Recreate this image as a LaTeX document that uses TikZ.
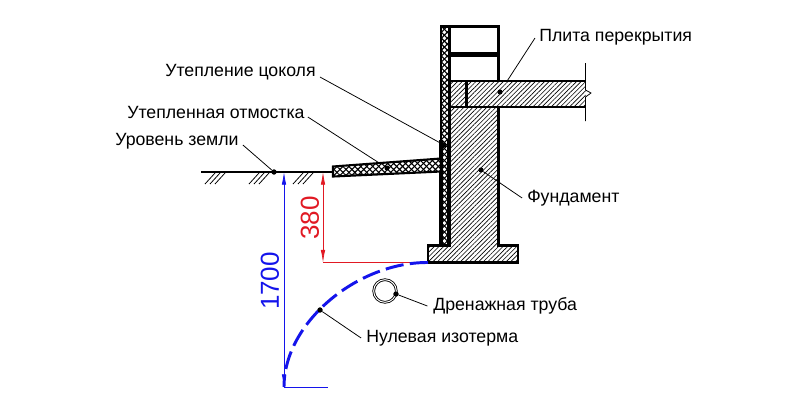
\documentclass[tikz,border=0pt]{standalone}
\usepackage{fontspec}
\setmainfont{Liberation Sans}
\usetikzlibrary{arrows.meta,patterns.meta}
\definecolor{dimblue}{RGB}{20,20,235}
\definecolor{dimred}{RGB}{225,25,35}
\begin{document}
\begin{tikzpicture}[
		x=0.25mm,y=-0.25mm,
		solid/.style = {draw,line width=1.5pt},
		hatchfill/.style = {fill=white,postaction={pattern={Lines[angle=45,distance=2.3pt,line width=.45pt]}}},
		hatched/.style = {solid,hatchfill},
		mesh/.style = {solid,fill=white,
			postaction={pattern={Lines[angle=45,distance=3pt,line width=.8pt]}},
			postaction={pattern={Lines[angle=-45,distance=3pt,line width=.8pt]}}},
		leader/.style = {draw,line width=.55pt},
		dotmark/.style = {circle,fill=black,inner sep=0pt,minimum size=3.6pt},
		lab/.style = {font=\fontsize{12.6}{14}\selectfont,inner sep=0pt,anchor=west},
		dimtext/.style = {font=\fontsize{18.5}{20}\selectfont,inner sep=0pt,rotate=90},
		dimline/.style = {line width=.5pt,{Latex[length=9pt,width=3.2pt]}-{Latex[length=9pt,width=3.2pt]}},
		]
		\useasboundingbox (0,0) rectangle (800,402);
		% labels
		\node[lab] (labPlita) at (539,37) {Плита перекрытия};
		\node[lab] (labCokol) at (165,72) {Утепление цоколя};
		\node[lab] (labOtm) at (127,112) {Утепленная отмостка};
		\node[lab] (labGround) at (115,141) {Уровень земли};
		\node[lab] (labFund) at (527,198) {Фундамент};
		\node[lab] (labPipe) at (433,306) {Дренажная труба};
		\node[lab] (labIso) at (366,338) {Нулевая изотерма};
		% marks
		\node[dotmark] (dotPlita) at (500,92) {};
		\node[dotmark] (dotCokol) at (444,145) {};
		\node[dotmark] (dotOtm) at (387,168) {};
		\node[dotmark] (dotGround) at (274,172) {};
		\node[dotmark] (dotFund) at (481,170) {};
		\node[dotmark] (dotPipe) at (396,294) {};
		\node[dotmark] (dotIso) at (320,310) {};
		% leaders under the shapes
		\draw[leader] (labPlita.west) ++(-4,1) -- (dotPlita);
		\draw[leader] (labOtm.east) ++(3,5) -- (dotOtm);
		% slab and foundation
		\fill[hatchfill] (450,81) rectangle (585.5,107);
		\draw[solid] (585.5,81) -- (450,81) -- (450,107) -- (585.5,107);
		\draw[hatched] (449,107) -- (498.5,107) -- (498.5,245.5) -- (518,245.5) -- (518,262.5) -- (428,262.5) -- (428,245.5) -- (449,245.5) -- cycle;
		\draw[solid] (466.5,81) -- (466.5,107);
		% bricks
		\draw[solid] (450,26.5) rectangle (498.5,53);
		\draw[solid] (450,55.5) rectangle (498.5,81);
		% insulation
		\draw[mesh] (441,26.5) rectangle (449.5,245.5);
		\draw[solid,line width=2.4pt] (441,140) -- (441,245.5) (449,140) -- (449,245.5);
		\draw[mesh] (333,166.5) -- (441,158.5) -- (441,171.5) -- (333,176.5) -- cycle;
		% slab break
		\fill[white] (586,84) rectangle (592,104);
		\draw[leader] (585.5,63) -- (585.5,90) -- (591,93) -- (585.5,97) -- (585.5,121);
		% ground
		\draw[solid] (201,172) -- (333,172);
		\foreach \gx in {205,249,293} {
			\foreach \gd in {0,5,10}
				\draw[leader] (\gx+\gd,184) -- (\gx+\gd+10,173);
		}
		% dimensions
		\coordinate (isoEnd) at (284,387);
		\coordinate (isoStart) at (428,262.5);
		\coordinate (redFoot) at (323,262.5);
		\coordinate (redTop) at (323,172);
		\coordinate (blueTop) at (284,172);
		\coordinate (blueEnd) at (328,387);
		\draw[dimline,dimred] (redTop) -- (redFoot);
		\draw[dimred,line width=.5pt] (redFoot) -- (410,262.5);
		\draw[dimline,dimblue] (blueTop) -- (isoEnd);
		\draw[dimblue,line width=.5pt] (isoEnd) -- (blueEnd);
		\node[dimtext,text=dimred] (txtRed) at (310,218) {380};
		\node[dimtext,text=dimblue] (txtBlue) at (270,281) {1700};
		% isotherm
		\draw[dimblue,line width=2.1pt,dash pattern=on 13pt off 4.5pt] (isoStart) .. controls (358,262) and (284,322) .. (isoEnd);
		% pipe
		\node[circle,draw,double=white,double distance=.7pt,line width=.6pt,minimum size=23pt*.7,inner sep=0pt] (pipe) at (385,291) {};
		% remaining leaders
		\draw[leader] (labCokol.east) ++(4,5) -- (dotCokol);
		\draw[leader] (labGround.east) ++(4,4) -- (dotGround);
		\draw[leader] (dotFund) -- ([xshift=-3.5pt]labFund.west);
		\draw[leader] (dotPipe) -- ([xshift=-4pt]labPipe.west);
		\draw[leader] (dotIso) -- ([xshift=-3.5pt]labIso.west);
		% marks again on top
		\foreach \m in {dotPlita,dotCokol,dotOtm,dotGround,dotFund,dotPipe,dotIso}
			\fill (\m) circle (1.8pt);
\end{tikzpicture}
\end{document}
